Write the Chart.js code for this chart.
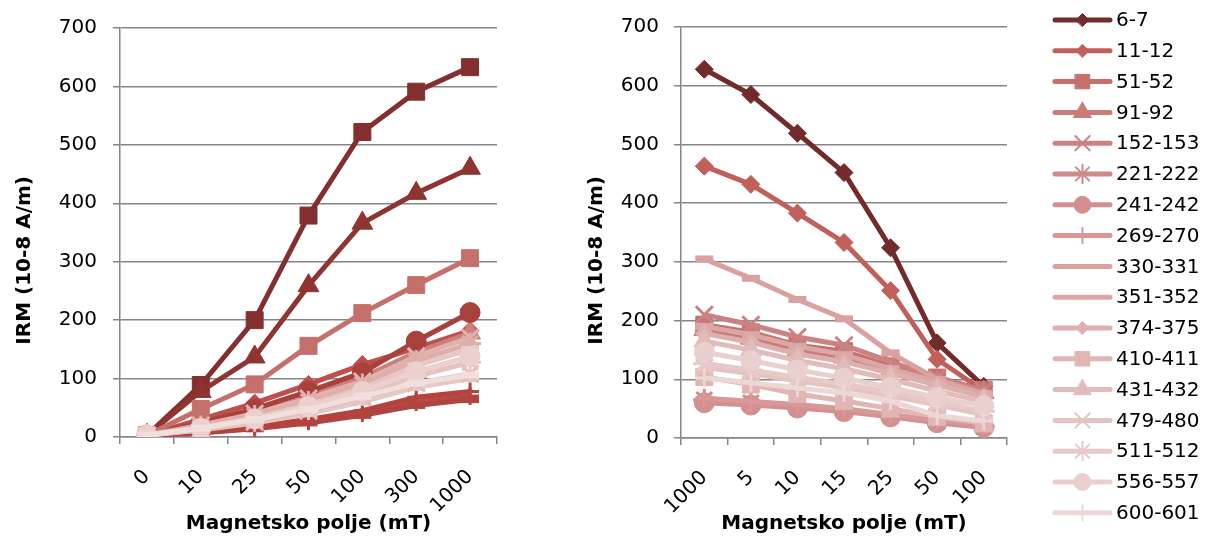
<!DOCTYPE html>
<html>
<head>
<meta charset="utf-8">
<script src="https://cdn.jsdelivr.net/npm/chart.js@4/dist/chart.umd.min.js"></script>
<style>
  html, body { margin: 0; padding: 0; background: #ffffff; }
  #wrap { position: relative; width: 1209px; height: 540px; overflow: hidden; }
  .box { position: absolute; top: 0; height: 540px; }
  #leftBox { left: 0; width: 540px; }
  #rightBox { left: 560px; width: 649px; }
</style>
</head>
<body>
<div id="wrap">
  <div class="box" id="leftBox"><canvas id="leftChart"></canvas></div>
  <div class="box" id="rightBox"><canvas id="rightChart"></canvas></div>
</div>
<script>
// ---------------- DATA ----------------
const leftCategories  = ['0', '10', '25', '50', '100', '300', '1000'];
const rightCategories = ['1000', '5', '10', '15', '25', '50', '100'];
const sampleLabels = ['6-7','11-12','51-52','91-92','152-153','221-222','241-242','269-270',
  '330-331','351-352','374-375','410-411','431-432','479-480','511-512','556-557','600-601'];
const yAxisTitle = 'IRM (10-8 A/m)';
const xAxisTitle = 'Magnetsko polje (mT)';

// Right chart (demagnetisation) values, per sample, in rightCategories order
const r_6_7     = [628, 585, 519, 452, 324, 162, 88];
const r_11_12   = [463, 432, 383, 333, 251, 134, 80];
const r_51_52   = [193, 180, 158, 148, 122, 103, 82];
const r_91_92   = [185, 170, 150, 138, 115, 95, 78];
const r_152_153 = [210, 193, 172, 158, 130, 102, 80];
const r_221_222 = [65, 60, 55, 48, 38, 28, 20];
const r_241_242 = [60, 56, 51, 45, 36, 26, 18];
const r_269_270 = [68, 62, 57, 50, 40, 30, 22];
const r_330_331 = [305, 272, 236, 203, 145, 100, 75];
const r_351_352 = [190, 176, 156, 142, 118, 96, 76];
const r_374_375 = [178, 163, 143, 130, 110, 90, 70];
const r_410_411 = [104, 91, 75, 63, 50, 36, 25];
const r_431_432 = [165, 150, 132, 118, 100, 80, 62];
const r_479_480 = [120, 110, 97, 86, 72, 56, 40];
const r_511_512 = [127, 116, 103, 92, 78, 62, 45];
const r_556_557 = [146, 132, 116, 102, 86, 69, 55];
const r_600_601 = [102, 94, 85, 77, 63, 38, 29];

// Left chart (acquisition) values, per sample, in leftCategories order
const l_6_7     = [3, 89, 200, 379, 522, 591, 633];
const l_11_12   = [3, 78, 137, 259, 366, 417, 460];
const l_51_52   = [3, 30, 58, 90, 124, 152, 182];
const l_91_92   = [3, 22, 44, 70, 102, 145, 178];
const l_152_153 = [3, 24, 48, 78, 110, 164, 213];
const l_221_222 = [3, 8, 16, 27, 41, 60, 70];
const l_241_242 = [3, 7, 14, 24, 37, 54, 64];
const l_269_270 = [3, 9, 18, 30, 45, 68, 78];
const l_330_331 = [3, 48, 90, 156, 212, 260, 306];
const l_351_352 = [3, 20, 40, 66, 95, 138, 170];
const l_374_375 = [3, 18, 36, 60, 90, 130, 160];
const l_410_411 = [3, 12, 24, 40, 60, 85, 100];
const l_431_432 = [3, 16, 33, 55, 83, 122, 150];
const l_479_480 = [3, 13, 26, 45, 68, 92, 108];
const l_511_512 = [3, 14, 28, 48, 72, 104, 128];
const l_556_557 = [3, 15, 31, 52, 78, 112, 138];
const l_600_601 = [3, 15, 30, 47, 70, 92, 106];

const rightValues = [r_6_7, r_11_12, r_51_52, r_91_92, r_152_153, r_221_222, r_241_242, r_269_270,
  r_330_331, r_351_352, r_374_375, r_410_411, r_431_432, r_479_480, r_511_512, r_556_557, r_600_601];
const leftValues = [l_6_7, l_11_12, l_51_52, l_91_92, l_152_153, l_221_222, l_241_242, l_269_270,
  l_330_331, l_351_352, l_374_375, l_410_411, l_431_432, l_479_480, l_511_512, l_556_557, l_600_601];

// ---------------- STYLES ----------------
const rightColors = ['#722b2b','#c0605b','#c4706c','#c97d78','#cc8282','#d08a8a','#d49090','#d69898',
  '#d9a2a0','#dba7a6','#ddafae','#e0b6b5','#e2bcbb','#e4c3c2','#e6c9c8','#e9d0cf','#ecd7d6'];
const rightMarkers = ['rectRot','rectRot','rect','triangle','crossRot','star','circle','cross',
  'line','line','rectRot','rect','triangle','crossRot','star','circle','cross'];

const leftColors = ['#842f2f','#8e3431','#bf4f4a','#cd7f7a','#a8403c','#b84a45','#b04440','#b4433e',
  '#c5706b','#e0b2b0','#dfaeab','#e8c8c6','#e8c6c4','#e4bebc','#e6c2c0','#ecd0ce','#f1dfde'];
const leftMarkers = ['rect','triangle','rectRot','triangle','circle','cross','line','cross',
  'rect','crossRot','star','line','line','crossRot','star','circle','line'];

function markerRadius(style) {
  switch (style) {
    case 'rect': return 12;
    case 'rectRot': return 9;
    case 'triangle': return 12;
    case 'crossRot': return 12;
    case 'star': return 11;
    case 'circle': return 10;
    case 'cross': return 9;
    case 'line': return 9;
  }
  return 8;
}
function markerBorder(style) {
  if (style === 'line') return 7;
  if (style === 'cross' || style === 'crossRot' || style === 'star') return 3;
  return 1;
}

function buildDatasets(values, colors, markers) {
  return values.map((vals, i) => ({
    label: sampleLabels[i],
    data: vals,
    borderColor: colors[i],
    backgroundColor: colors[i],
    pointBackgroundColor: colors[i],
    pointBorderColor: colors[i],
    pointStyle: markers[i],
    pointRadius: markerRadius(markers[i]),
    pointHoverRadius: markerRadius(markers[i]),
    pointBorderWidth: markerBorder(markers[i]),
    borderWidth: 5,
    tension: 0,
    fill: false,
    order: values.length - i
  }));
}

const FONT = "'DejaVu Sans', 'Liberation Sans', sans-serif";
const GRID = '#868686';

function makeOptions(yWidth, xHeight, padRight, yTitlePad, tickPad) {
  return {
    responsive: true,
    maintainAspectRatio: false,
    devicePixelRatio: 1,
    animation: false,
    layout: { padding: { left: 0, right: padRight, top: 16, bottom: 0 } },
    plugins: { legend: { display: false }, tooltip: { enabled: false } },
    scales: {
      x: {
        type: 'category',
        offset: true,
        grid: { offset: true, drawOnChartArea: false, drawTicks: true, tickLength: 7, color: GRID, lineWidth: 1.5 },
        border: { display: true, color: GRID, width: 1.5 },
        ticks: { autoSkip: false, minRotation: 45, maxRotation: 45, padding: 21, color: '#000',
                 font: { family: FONT, size: 20 } },
        title: { display: true, text: xAxisTitle, color: '#000', padding: { top: 0, bottom: 4 },
                 font: { family: FONT, size: 20, weight: 'bold' } },
        afterFit: (s) => { s.height = xHeight; }
      },
      y: {
        min: 0, max: 700,
        grid: { drawOnChartArea: true, drawTicks: true, tickLength: 7, color: GRID, lineWidth: 1.5 },
        border: { display: true, color: GRID, width: 1.5 },
        ticks: { stepSize: 100, padding: tickPad, color: '#000', font: { family: FONT, size: 20 } },
        title: { display: true, text: yAxisTitle + '\u00a0\u00a0\u00a0\u00a0\u00a0\u00a0\u00a0\u00a0', color: '#000',
                 padding: { top: yTitlePad, bottom: 0 },
                 font: { family: FONT, size: 20, weight: 'bold' } },
        afterFit: (s) => { s.width = yWidth; }
      }
    }
  };
}

const legendPlugin = {
  id: 'sideLegend',
  afterDraw(chart) {
    const ctx = chart.ctx;
    const x0 = 495, x1 = 550, tx = 556;
    chart.data.datasets.forEach((ds, i) => {
      const y = 20 + i * 30.8;
      ctx.save();
      ctx.strokeStyle = ds.borderColor;
      ctx.lineWidth = 5;
      ctx.lineCap = 'round';
      ctx.beginPath();
      ctx.moveTo(x0, y);
      ctx.lineTo(x1, y);
      ctx.stroke();
      if (ds.pointStyle !== 'line') {
        ctx.fillStyle = ds.pointBackgroundColor;
        ctx.strokeStyle = ds.pointBorderColor;
        ctx.lineWidth = ds.pointStyle === 'cross' || ds.pointStyle === 'crossRot' || ds.pointStyle === 'star' ? 2 : 1;
        const r = ds.pointStyle === 'rectRot' ? 6.5 : ds.pointRadius * 0.85;
        Chart.helpers.drawPoint(ctx, { pointStyle: ds.pointStyle, radius: r, rotation: 0, borderWidth: ctx.lineWidth },
          (x0 + x1) / 2, y);
      }
      ctx.fillStyle = '#000';
      ctx.font = '20px ' + FONT;
      ctx.textBaseline = 'middle';
      ctx.textAlign = 'left';
      ctx.fillText(ds.label, tx, y + 1);
      ctx.restore();
    });
  }
};

new Chart(document.getElementById('leftChart'), {
  type: 'line',
  data: { labels: leftCategories, datasets: buildDatasets(leftValues, leftColors, leftMarkers) },
  options: makeOptions(120, 103, 43, 13, 16)
});

new Chart(document.getElementById('rightChart'), {
  type: 'line',
  data: { labels: rightCategories, datasets: buildDatasets(rightValues, rightColors, rightMarkers) },
  options: makeOptions(121, 102, 202, 25, 15),
  plugins: [legendPlugin]
});
</script>
</body>
</html>
